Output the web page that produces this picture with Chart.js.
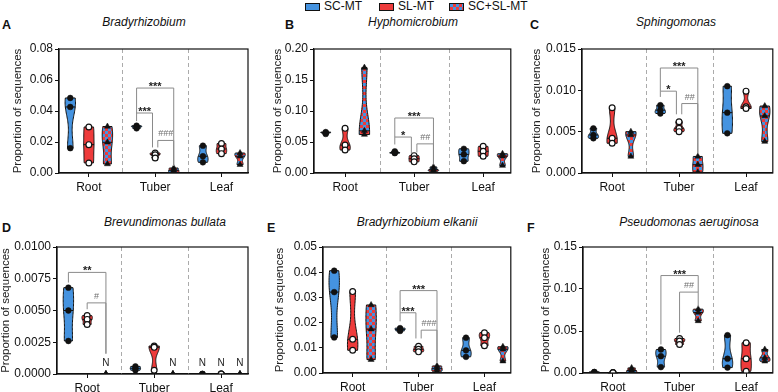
<!DOCTYPE html>
<html>
<head>
<meta charset="utf-8">
<script src="https://cdn.jsdelivr.net/npm/chart.js@4.4.0/dist/chart.umd.min.js"></script>
<style>
  body { margin: 0; background: #fff; width: 778px; height: 392px; position: relative; overflow: hidden;
         font-family: "Liberation Sans", Arial, sans-serif; color: #111; }
  canvas { position: absolute; }
  .letter { position: absolute; font-weight: bold; font-size: 12.5px; line-height: 12px; }
  .title { position: absolute; font-style: italic; font-size: 12px; line-height: 12px; white-space: nowrap; transform: translateX(-50%); }
  .lbox { position: absolute; top: 3px; width: 13px; height: 6px; border: 1px solid #111; }
  .ltxt { position: absolute; top: 0px; font-size: 12px; line-height: 12px; }
</style>
</head>
<body>
<div class="lbox" style="left:305px;background:#4593e0"></div><div class="ltxt" style="left:324px">SC-MT</div>
<div class="lbox" style="left:379px;background:#ee3b3b"></div><div class="ltxt" style="left:398px">SL-MT</div>
<div class="lbox" style="left:449px;background:repeating-conic-gradient(#ee3b3b 0 25%, #4593e0 0 50%) 0 0/6px 6px"></div><div class="ltxt" style="left:468px">SC+SL-MT</div>

<script>
const groups = ['Root', 'Tuber', 'Leaf'];
const treatments = ['SC-MT', 'SL-MT', 'SC+SL-MT'];

// A  Bradyrhizobium  (per group: Root, Tuber, Leaf)
const bradySC  = [[0.0484, 0.0426, 0.0160], [0.0305, 0.0298, 0.0288], [0.0176, 0.0108, 0.0069]];
const bradySL  = [[0.0297, 0.0183, 0.0065], [0.0129, 0.0118, 0.0097], [0.0190, 0.0155, 0.0125]];
const bradyMix = [[0.0300, 0.0198, 0.0058], [0.0032, 0.0017, 0.0004], [0.0129, 0.0108, 0.0054]];
const bradyTicks = ['0.00', '0.02', '0.04', '0.06', '0.08'];

// B  Hyphomicrobium
const hyphoSC  = [[0.066, 0.065, 0.063], [0.035, 0.033, 0.032], [0.039, 0.030, 0.019]];
const hyphoSL  = [[0.072, 0.045, 0.037], [0.028, 0.023, 0.018], [0.043, 0.035, 0.027]];
const hyphoMix = [[0.170, 0.068, 0.062], [0.0097, 0.0054, 0.0030], [0.031, 0.027, 0.012]];
const hyphoTicks = ['0.00', '0.05', '0.10', '0.15', '0.20'];

// C  Sphingomonas
const sphingoSC  = [[0.0054, 0.0046, 0.0042], [0.0082, 0.0076, 0.0072], [0.0105, 0.0073, 0.0048]];
const sphingoSL  = [[0.0079, 0.0042, 0.0036], [0.0062, 0.0054, 0.0050], [0.0099, 0.0080, 0.0078]];
const sphingoMix = [[0.0050, 0.0046, 0.0020], [0.0020, 0.0010, 0.0001], [0.0081, 0.0069, 0.0038]];
const sphingoTicks = ['0.000', '0.005', '0.010', '0.015'];

// D  Brevundimonas bullata
const brevSC  = [[0.0068, 0.0050, 0.0026], [0.0006, 0.00045, 0.0003], [0, 0, 0]];
const brevSL  = [[0.0046, 0.0043, 0.0039], [0.0022, 0.0021, 0.0003], [0, 0, 0]];
const brevMix = [[0, 0, 0], [0, 0, 0], [0, 0, 0]];
const brevTicks = ['0.0000', '0.0025', '0.0050', '0.0075', '0.0100'];

// E  Bradyrhizobium elkanii
const elkSC  = [[0.0406, 0.0321, 0.0141], [0.0178, 0.0173, 0.0167], [0.0140, 0.0090, 0.0064]];
const elkSL  = [[0.0323, 0.0134, 0.0090], [0.0106, 0.0094, 0.0084], [0.0160, 0.0140, 0.0108]];
const elkMix = [[0.0270, 0.0174, 0.0053], [0.0028, 0.0017, 0.0007], [0.0104, 0.0094, 0.0047]];
const elkTicks = ['0.00', '0.01', '0.02', '0.03', '0.04', '0.05'];

// F  Pseudomonas aeruginosa
const pseudoSC  = [[0.0012, 0.0010, 0.0008], [0.028, 0.020, 0.007], [0.045, 0.017, 0.0064]];
const pseudoSL  = [[0.0006, 0.0004, 0.0002], [0.041, 0.038, 0.034], [0.036, 0.017, 0.002]];
const pseudoMix = [[0.006, 0.003, 0.001], [0.076, 0.072, 0.062], [0.028, 0.018, 0.014]];
const pseudoTicks = ['0.00', '0.05', '0.10', '0.15'];

// significance brackets: group, treatment indices, heights of bar and legs
const bradyBrackets = [
  { g: 1, t1: 0, t2: 2, y: 0.0548, y1: 0.0387, y2: 0.0045, text: '***' },
  { g: 1, t1: 0, t2: 1, y: 0.0387, y1: 0.0335, y2: 0.0165, n2: -0.04, text: '***' },
  { g: 1, t1: 1, t2: 2, y: 0.0210, y1: 0.0165, y2: 0.0045, n1: 0.04, text: '###' }
];
const hyphoBrackets = [
  { g: 1, t1: 0, t2: 2, y: 0.0887, y1: 0.058, y2: 0.014, text: '***' },
  { g: 1, t1: 0, t2: 1, y: 0.058, y1: 0.046, y2: 0.031, n2: -0.04, text: '*' },
  { g: 1, t1: 1, t2: 2, y: 0.047, y1: 0.033, y2: 0.014, n1: 0.04, text: '##' }
];
const sphingoBrackets = [
  { g: 1, t1: 0, t2: 2, y: 0.0127, y1: 0.0099, y2: 0.0024, text: '***' },
  { g: 1, t1: 0, t2: 1, y: 0.0099, y1: 0.0092, y2: 0.0071, n2: -0.04, text: '*' },
  { g: 1, t1: 1, t2: 2, y: 0.0084, y1: 0.0071, y2: 0.0024, n1: 0.04, text: '##' }
];
const brevBrackets = [
  { g: 0, t1: 0, t2: 2, y: 0.0080, y1: 0.0072, y2: 0.0016, text: '**' },
  { g: 0, t1: 1, t2: 2, y: 0.0056, y1: 0.0051, y2: 0.0016, text: '#' }
];
const elkBrackets = [
  { g: 1, t1: 0, t2: 2, y: 0.0327, y1: 0.0239, y2: 0.0044, text: '***' },
  { g: 1, t1: 0, t2: 1, y: 0.0239, y1: 0.0205, y2: 0.0137, n2: -0.04, text: '***' },
  { g: 1, t1: 1, t2: 2, y: 0.0170, y1: 0.0137, y2: 0.0044, n1: 0.04, text: '###' }
];
const pseudoBrackets = [
  { g: 1, t1: 0, t2: 2, y: 0.116, y1: 0.034, y2: 0.0963, text: '***' },
  { g: 1, t1: 1, t2: 2, y: 0.0963, y1: 0.048, y2: 0.079, text: '##' }
];
// "N" marks over groups without detection: [group, treatment]
const brevNotDetected = [[0, 2], [1, 2], [2, 0], [2, 1], [2, 2]];

const BLUE = '#4593e0';
const RED = '#ee3b3b';
const offsets = [-0.28, 0, 0.28];

Chart.defaults.font.family = '"Liberation Sans", Arial, sans-serif';
Chart.defaults.color = '#111';

const panels = [
  { letter: 'A', title: 'Bradyrhizobium', series: [bradySC, bradySL, bradyMix], ticks: bradyTicks, brackets: bradyBrackets,
    canvas: { l: 0, t: 35, w: 258, h: 165 }, plot: { l: 59, t: 49, r: 248, b: 173 }, yTitleX: 18,
    letterPos: [2, 19], titlePos: [144, 16] },
  { letter: 'B', title: 'Hyphomicrobium', series: [hyphoSC, hyphoSL, hyphoMix], ticks: hyphoTicks, brackets: hyphoBrackets,
    canvas: { l: 258, t: 35, w: 258, h: 165 }, plot: { l: 314, t: 49, r: 511, b: 173 }, yTitleX: 278,
    letterPos: [285, 19], titlePos: [413, 16] },
  { letter: 'C', title: 'Sphingomonas', series: [sphingoSC, sphingoSL, sphingoMix], ticks: sphingoTicks, brackets: sphingoBrackets,
    canvas: { l: 516, t: 35, w: 262, h: 165 }, plot: { l: 582, t: 49, r: 773, b: 173 }, yTitleX: 537,
    letterPos: [530, 19], titlePos: [676, 16] },
  { letter: 'D', title: 'Brevundimonas bullata', series: [brevSC, brevSL, brevMix], ticks: brevTicks, brackets: brevBrackets,
    nLabels: brevNotDetected,
    canvas: { l: 0, t: 232, w: 258, h: 160 }, plot: { l: 57, t: 247, r: 248, b: 374 }, yTitleX: 5,
    letterPos: [2, 222], titlePos: [165, 216] },
  { letter: 'E', title: 'Bradyrhizobium elkanii', series: [elkSC, elkSL, elkMix], ticks: elkTicks, brackets: elkBrackets,
    canvas: { l: 258, t: 232, w: 258, h: 160 }, plot: { l: 323, t: 247, r: 512, b: 373 }, yTitleX: 280,
    letterPos: [267, 222], titlePos: [417, 216] },
  { letter: 'F', title: 'Pseudomonas aeruginosa', series: [pseudoSC, pseudoSL, pseudoMix], ticks: pseudoTicks, brackets: pseudoBrackets,
    canvas: { l: 516, t: 232, w: 262, h: 160 }, plot: { l: 583, t: 247, r: 773, b: 373 }, yTitleX: 546,
    letterPos: [527, 222], titlePos: [689, 216] }
];

function checkerPattern(ctx) {
  const c = document.createElement('canvas');
  c.width = c.height = 6;
  const g = c.getContext('2d');
  g.fillStyle = BLUE;
  g.fillRect(0, 0, 6, 6);
  g.fillStyle = RED;
  g.fillRect(0, 0, 3, 3);
  g.fillRect(3, 3, 3, 3);
  return ctx.createPattern(c, 'repeat');
}

function drawViolin(ctx, cx, vals, yScale, fill) {
  const lo = Math.min(...vals), hi = Math.max(...vals);
  if (hi - lo <= 0) return;
  const mean = vals.reduce((a, b) => a + b, 0) / vals.length;
  const sd = Math.sqrt(vals.reduce((a, v) => a + (v - mean) ** 2, 0) / (vals.length - 1));
  const bw = 0.5 * sd;
  const dens = v => vals.reduce((a, vi) => a + Math.exp(-0.5 * ((v - vi) / bw) ** 2), 0);
  const prof = [];
  for (let i = 0; i <= 40; i++) {
    const v = lo + (hi - lo) * i / 40;
    prof.push([v, dens(v)]);
  }
  const dmax = Math.max(...prof.map(p => p[1]));
  const W = 5.2;
  ctx.beginPath();
  prof.forEach(([v, d], i) => {
    const px = cx + W * d / dmax, py = yScale.getPixelForValue(v);
    i ? ctx.lineTo(px, py) : ctx.moveTo(px, py);
  });
  for (let i = prof.length - 1; i >= 0; i--) {
    ctx.lineTo(cx - W * prof[i][1] / dmax, yScale.getPixelForValue(prof[i][0]));
  }
  ctx.closePath();
  ctx.fillStyle = fill;
  ctx.fill();
  ctx.lineWidth = 1;
  ctx.strokeStyle = '#111';
  ctx.stroke();
  // median line
  const med = [...vals].sort((a, b) => a - b)[Math.floor(vals.length / 2)];
  const hw = W * dens(med) / dmax;
  const my = yScale.getPixelForValue(med);
  ctx.beginPath();
  ctx.moveTo(cx - hw, my);
  ctx.lineTo(cx + hw, my);
  ctx.stroke();
}

function makePlugin(p) {
  return {
    id: 'violins' + p.letter,
    beforeDatasetsDraw(chart) {
      const { ctx, chartArea: ca, scales: { x, y } } = chart;
      ctx.save();
      ctx.strokeStyle = '#ababab';
      ctx.lineWidth = 1;
      ctx.setLineDash([4, 3]);
      [0.5, 1.5].forEach(v => {
        const px = Math.round(x.getPixelForValue(v)) + 0.5;
        ctx.beginPath();
        ctx.moveTo(px, ca.top);
        ctx.lineTo(px, ca.bottom);
        ctx.stroke();
      });
      ctx.setLineDash([]);
      const fills = [BLUE, RED, checkerPattern(ctx)];
      p.series.forEach((ser, t) => {
        ser.forEach((vals, g) => drawViolin(ctx, x.getPixelForValue(g + offsets[t]), vals, y, fills[t]));
      });
      ctx.restore();
    },
    afterDatasetsDraw(chart) {
      const { ctx, chartArea: ca, scales: { x, y } } = chart;
      ctx.save();
      ctx.strokeStyle = '#111';
      ctx.lineWidth = 1.2;
      ctx.strokeRect(ca.left, ca.top, ca.right - ca.left, ca.bottom - ca.top);
      p.brackets.forEach(b => {
        const x1 = x.getPixelForValue(b.g + offsets[b.t1] + (b.n1 || 0));
        const x2 = x.getPixelForValue(b.g + offsets[b.t2] + (b.n2 || 0));
        const yy = y.getPixelForValue(b.y);
        ctx.strokeStyle = '#8a8a8a';
        ctx.lineWidth = 1;
        ctx.beginPath();
        ctx.moveTo(x1, y.getPixelForValue(b.y1));
        ctx.lineTo(x1, yy);
        ctx.lineTo(x2, yy);
        ctx.lineTo(x2, y.getPixelForValue(b.y2));
        ctx.stroke();
        const star = b.text[0] === '*';
        ctx.fillStyle = star ? '#222' : '#707070';
        ctx.font = star ? 'bold 11px "Liberation Sans", Arial' : '9px "Liberation Sans", Arial';
        ctx.textAlign = 'center';
        ctx.textBaseline = 'alphabetic';
        ctx.fillText(b.text, (x1 + x2) / 2, star ? yy + 2 : yy - 4);
      });
      (p.nLabels || []).forEach(([g, t]) => {
        ctx.fillStyle = '#222';
        ctx.font = '10px "Liberation Sans", Arial';
        ctx.textAlign = 'center';
        ctx.fillText('N', x.getPixelForValue(g + offsets[t]), y.getPixelForValue(0) - 8);
      });
      ctx.restore();
    }
  };
}

panels.forEach(p => {
  const lt = document.createElement('div');
  lt.className = 'letter';
  lt.textContent = p.letter;
  lt.style.left = p.letterPos[0] + 'px';
  lt.style.top = p.letterPos[1] + 'px';
  document.body.appendChild(lt);
  const tt = document.createElement('div');
  tt.className = 'title';
  tt.textContent = p.title;
  tt.style.left = p.titlePos[0] + 'px';
  tt.style.top = p.titlePos[1] + 'px';
  document.body.appendChild(tt);

  const cv = document.createElement('canvas');
  cv.width = p.canvas.w;
  cv.height = p.canvas.h;
  cv.style.left = p.canvas.l + 'px';
  cv.style.top = p.canvas.t + 'px';
  document.body.appendChild(cv);

  const yVals = p.ticks.map(s => parseFloat(s));
  const datasets = p.series.map((ser, t) => ({
    label: treatments[t],
    data: ser.flatMap((vals, g) => vals.map(v => ({ x: g + offsets[t], y: v }))),
    pointStyle: t === 2 ? 'triangle' : 'circle',
    pointRadius: t === 2 ? 3.5 : 2.9,
    backgroundColor: t === 1 ? '#fff' : '#111',
    borderColor: '#111',
    borderWidth: t === 1 ? 1.2 : 0.5
  }));

  new Chart(cv.getContext('2d'), {
    type: 'scatter',
    data: { datasets },
    options: {
      responsive: false,
      animation: false,
      events: [],
      layout: { padding: { top: p.plot.t - p.canvas.t, right: p.canvas.l + p.canvas.w - p.plot.r, bottom: 0, left: 0 } },
      plugins: { legend: { display: false }, tooltip: { enabled: false } },
      scales: {
        x: {
          type: 'linear', min: -0.45, max: 2.4,
          afterBuildTicks: s => { s.ticks = groups.map((_, i) => ({ value: i })); },
          afterFit: s => { s.height = p.canvas.t + p.canvas.h - p.plot.b; },
          ticks: { callback: v => groups[v], autoSkip: false, maxRotation: 0, padding: 3, font: { size: 12 }, color: '#111' },
          grid: { drawOnChartArea: false, drawTicks: true, tickLength: 4, color: '#111' },
          border: { color: '#111', width: 1.2 }
        },
        y: {
          min: 0, max: yVals[yVals.length - 1],
          afterBuildTicks: s => { s.ticks = yVals.map(v => ({ value: v })); },
          afterFit: s => { s.width = p.plot.l - p.canvas.l; },
          ticks: { callback: (v, i) => p.ticks[i], autoSkip: false, padding: 2, font: { size: 12 }, color: '#111' },
          grid: { drawOnChartArea: false, drawTicks: true, tickLength: 4, color: '#111' },
          border: { color: '#111', width: 1.2 },
          title: {
            display: true, text: 'Proportion of sequences', color: '#222',
            font: { size: 11.5, lineHeight: 1 },
            padding: { top: Math.max(0, p.yTitleX - p.canvas.l - 5.75), bottom: 0 }
          }
        }
      }
    },
    plugins: [makePlugin(p)]
  });
});
</script>
</body>
</html>
